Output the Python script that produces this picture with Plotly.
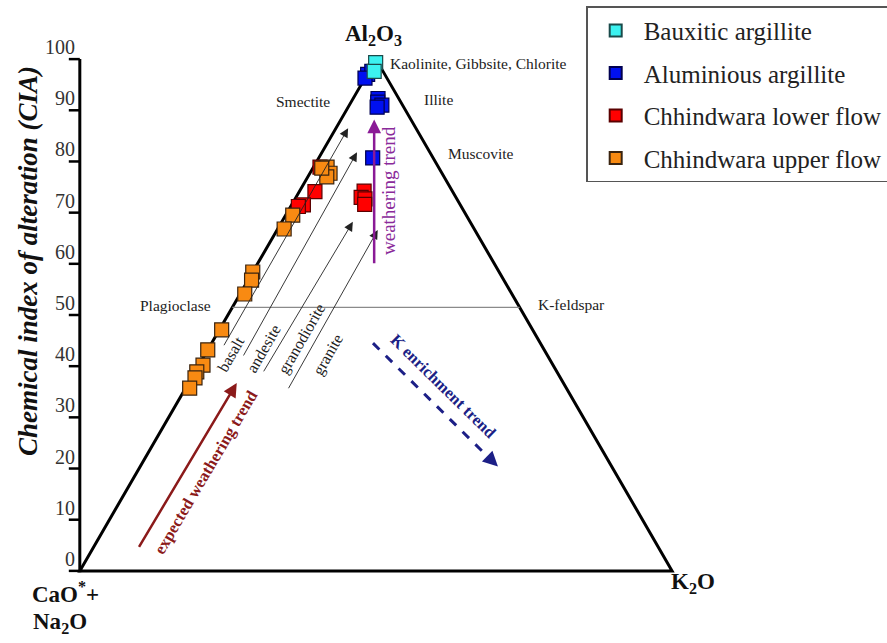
import plotly.graph_objects as go

# A-CN-K compositions: CIA (= molar Al2O3 %) and K2O % of each sample
bauxitic_cia = [99.3, 97.6]
bauxitic_k = [0.3, 0.9]

aluminous_cia = [97.0, 97.6, 96.3, 92.3, 91.6, 91.0, 90.6, 80.7]
aluminous_k = [0.1, 0.5, 0.0, 4.2, 4.5, 5.5, 4.9, 9.1]

lower_cia = [78.9, 74.1, 71.5, 71.2, 74.2, 73.0, 72.7, 71.6]
lower_k = [1.1, 2.65, 2.0, 1.3, 10.9, 11.0, 11.8, 12.3]

upper_cia = [78.9, 77.7, 77.0, 78.7, 69.5, 66.8, 58.4, 56.8, 54.1,
             47.1, 43.2, 40.2, 38.9, 37.7, 35.7]
upper_k = [2.3, 3.4, 3.2, 1.5, 1.2, 1.1, 0.0, 0.6, 0.8,
           0.4, 0.0, 0.7, 0.3, 0.6, 0.7]

series_names = ["Bauxitic argillite", "Aluminious argillite",
                "Chhindwara lower flow", "Chhindwara upper flow"]
cia_ticks = [0, 10, 20, 30, 40, 50, 60, 70, 80, 90, 100]

SERIF = "Liberation Serif"

# axis windows (triangle spans 0..100 in both directions)
X0, X1 = -2.5, 101.0
Y0, Y1 = -1.0, 101.0
PX_PER_X = 5.92
PX_PER_Y = 5.12
TICK_LEN = 11.0 / PX_PER_X
SPINE_HALF = 1.5 / PX_PER_X
TICK_HALF = 1.25 / PX_PER_Y


def tern_x(cia, k):
    """Horizontal position in the A-CN-K triangle (CN corner = 0, K corner = 100)."""
    return [kk + a / 2.0 for a, kk in zip(cia, k)]


def paper_x(xd):
    return (xd - X0) / (X1 - X0)


def paper_y(yd):
    return (yd - Y0) / (Y1 - Y0)


def sample_trace(name, cia, k, fill, edge, rank):
    return go.Scatter(
        x=tern_x(cia, k), y=cia, mode="markers", name=name,
        legendgroup=name, legendrank=rank, cliponaxis=False,
        marker=dict(symbol="square", size=14, color=fill,
                    line=dict(color=edge, width=1.2)),
        hoverinfo="skip",
    )


fig = go.Figure()
fig.add_trace(sample_trace(series_names[2], lower_cia, lower_k, "#FF0000", "#5a0000", 3))
fig.add_trace(sample_trace(series_names[3], upper_cia, upper_k, "#F88A12", "#3a2410", 4))
fig.add_trace(sample_trace(series_names[1], aluminous_cia, aluminous_k, "#0010F0", "#000050", 2))
fig.add_trace(sample_trace(series_names[0], bauxitic_cia, bauxitic_k, "#3CF2F0", "#1a4a4a", 1))

shapes = [
    # triangle outline
    dict(type="path", path="M 0 0 L 50 100 L 100 0 Z", xref="x", yref="y",
         line=dict(color="black", width=3), layer="below"),
    # plagioclase - K-feldspar join
    dict(type="line", x0=25.75, y0=51.5, x1=74.25, y1=51.5, xref="x", yref="y",
         line=dict(color="#8a8a8a", width=1.3), layer="below"),
    # K enrichment trend (dashed shaft)
    dict(type="line", x0=49.5, y0=44.5, x1=69.6, y1=21.5, xref="x", yref="y",
         line=dict(color="#1c1f86", width=3, dash="dash")),
    # CIA scale spine as a filled bar
    dict(type="rect", x0=-SPINE_HALF, x1=SPINE_HALF, y0=cia_ticks[0] - TICK_HALF,
         y1=cia_ticks[-1], xref="x", yref="y", fillcolor="black",
         line=dict(width=0), layer="above"),
]
# CIA scale tick marks as filled bars
for v in cia_ticks:
    shapes.append(dict(type="rect", x0=-TICK_LEN, x1=0, y0=v - TICK_HALF, y1=v + TICK_HALF,
                       xref="x", yref="y", fillcolor="black", line=dict(width=0),
                       layer="above"))


def arrow(x, y, ax, ay, color, width, head=2, size=1.3):
    return dict(x=x, y=y, ax=ax, ay=ay, xref="x", yref="y", axref="x", ayref="y",
                text="", showarrow=True, arrowhead=head, arrowsize=size,
                arrowwidth=width, arrowcolor=color)


def label(x, y, text, size=15.5, color="#222", angle=0, bold=False, xanchor="center",
          xref="x", yref="y", italic=False, yshift=0):
    if bold:
        text = "<b>" + text + "</b>"
    if italic:
        text = "<i>" + text + "</i>"
    return dict(x=x, y=y, xref=xref, yref=yref, text=text, showarrow=False,
                textangle=angle, xanchor=xanchor, yanchor="middle", yshift=yshift,
                font=dict(family=SERIF, size=size, color=color))


annotations = [
    # parent-rock weathering paths
    arrow(45.3, 86.5, 24.2, 43.8, "#222", 0.9, size=2.0),
    arrow(46.8, 81.8, 27.5, 41.8, "#222", 0.9, size=2.0),
    arrow(46.1, 68.2, 30.9, 38.7, "#222", 0.9, size=2.0),
    arrow(50.3, 66.6, 35.1, 35.4, "#222", 0.9, size=2.0),
    label(25.6, 42.4, "basalt", 16, angle=-60),
    label(31.0, 43.5, "andesite", 16, angle=-60),
    label(37.5, 45.3, "granodiorite", 16, angle=-60),
    label(41.9, 42.2, "granite", 16, angle=-60),
    # weathering trend
    arrow(49.7, 88.2, 49.7, 59.8, "#8a1a96", 2.5, head=2, size=1.1),
    label(52.1, 74.3, "weathering trend", 19, color="#8a2a9a", angle=-90),
    # expected weathering trend
    arrow(26.5, 36.7, 9.85, 4.4, "#8b1a1a", 2.5, head=2, size=1.1),
    label(21.2, 19.3, "expected weathering trend", 16.5, color="#8b1a1a",
          angle=-59.5, bold=True),
    # K enrichment arrowhead
    arrow(70.6, 20.4, 69.0, 22.2, "#1c1f86", 3, head=2, size=1.0),
    label(61.4, 36.0, "K enrichment trend", 16.5, color="#1c1f86", angle=44.5, bold=True),
    # mineral end-members
    label(52.0, 99.2, "Kaolinite, Gibbsite, Chlorite", 15.5, xanchor="left"),
    label(37.7, 91.8, "Smectite", 15.5),
    label(60.5, 92.2, "Illite", 15.5),
    label(67.8, 81.6, "Muscovite", 15.5),
    label(16.2, 51.8, "Plagioclase", 15.5),
    label(83.1, 52.0, "K-feldspar", 15.5),
    # triangle corners
    label(paper_x(49.66), paper_y(104.7), "Al<sub>2</sub>O<sub>3</sub>", 23, color="#111",
          bold=True, xref="paper", yref="paper"),
    label(paper_x(103.55), paper_y(-2.34), "K<sub>2</sub>O", 23, color="#111",
          bold=True, xref="paper", yref="paper"),
    label(paper_x(-2.36), paper_y(-4.3), "CaO<sup>*</sup>+", 23, color="#111",
          bold=True, xref="paper", yref="paper"),
    label(paper_x(-3.38), paper_y(-10.16), "Na<sub>2</sub>O", 23, color="#111",
          bold=True, xref="paper", yref="paper"),
    # vertical axis title
    label(paper_x(-8.78), paper_y(60.5), "Chemical index of alteration (CIA)", 27,
          color="#111", angle=-90, bold=True, italic=True, xref="paper", yref="paper"),
]

# CIA tick labels, set just above each tick mark
for v in cia_ticks:
    annotations.append(label(paper_x(-0.4), v, str(v), 20, color="#333", xanchor="right",
                             xref="paper", yref="y", yshift=12))

left = 80 + X0 * PX_PER_X
right = 887 - (672 + (X1 - 100) * PX_PER_X)
top = 59 - (Y1 - 100) * PX_PER_Y
bottom = 643 - (571 - Y0 * PX_PER_Y)

fig.update_layout(
    width=887, height=643,
    margin=dict(l=left, r=right, t=top, b=bottom, autoexpand=False),
    paper_bgcolor="white", plot_bgcolor="white",
    showlegend=True,
    xaxis=dict(range=[X0, X1], visible=False, fixedrange=True),
    yaxis=dict(range=[Y0, Y1], visible=False, fixedrange=True),
    legend=dict(x=paper_x(85.5), y=paper_y(110.35), xanchor="left", yanchor="top",
                traceorder="grouped", tracegroupgap=7, itemwidth=46,
                itemsizing="constant", bgcolor="white", bordercolor="#555",
                borderwidth=1.5, font=dict(family=SERIF, size=25, color="#222")),
    shapes=shapes,
    annotations=annotations,
)

fig.write_html("out.html")
